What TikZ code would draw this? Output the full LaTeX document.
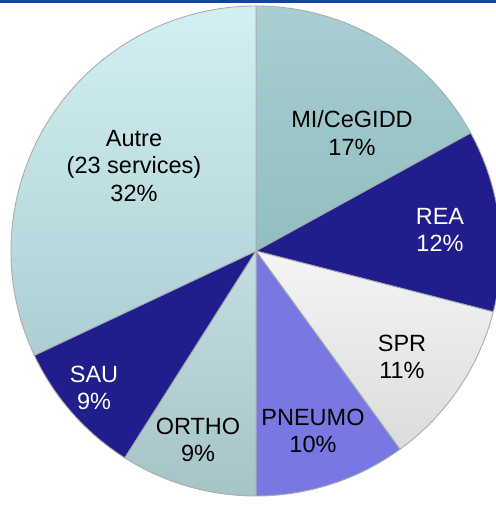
\documentclass[tikz,border=0pt]{standalone}
\usepackage{fontspec}
\setmainfont{Liberation Sans}
\usepackage{tikz}
\usetikzlibrary{calc}

\definecolor{barblue}{RGB}{18,68,168}
\definecolor{navy}{RGB}{32,30,140}
\definecolor{violet}{RGB}{120,120,226}

\begin{document}
\begin{tikzpicture}[x=1pt,y=1pt,
    slice/.style={draw=gray!65,line width=0.9pt},
    lbl/.style={align=center,font=\fontsize{23.5}{27.5}\selectfont,inner sep=0pt},
    wlbl/.style={lbl,text=white}]

  \useasboundingbox (0,0) rectangle (496,507);
  \clip (0,0) rectangle (496,507);

  % Centre of the pie
  \coordinate (c) at (256,256);

  % Draw slices
  % MI/CeGIDD
  \draw[slice,top color={rgb,255:red,168;green,206;blue,209},bottom color={rgb,255:red,146;green,190;blue,194},shift={(59.4:3.5)}]
    (c) -- +(90:245) arc[start angle=90,end angle=28.8,radius=245] -- cycle;
  % REA
  \draw[slice,fill=navy,shift={(7.2:3.5)}]
    (c) -- +(28.8:245) arc[start angle=28.8,end angle=-14.4,radius=245] -- cycle;
  % SPR
  \draw[slice,top color=gray!8,bottom color=gray!28,shift={(-34.2:3.5)}]
    (c) -- +(-14.4:245) arc[start angle=-14.4,end angle=-54,radius=245] -- cycle;
  % PNEUMO
  \draw[slice,fill=violet,shift={(-72:3.5)}]
    (c) -- +(-54:245) arc[start angle=-54,end angle=-90,radius=245] -- cycle;
  % ORTHO
  \draw[slice,top color={rgb,255:red,196;green,222;blue,226},bottom color={rgb,255:red,165;green,196;blue,200},shift={(-106.2:3.5)}]
    (c) -- +(-90:245) arc[start angle=-90,end angle=-122.4,radius=245] -- cycle;
  % SAU
  \draw[slice,fill=navy,shift={(-138.6:3.5)}]
    (c) -- +(-122.4:245) arc[start angle=-122.4,end angle=-154.8,radius=245] -- cycle;
  % Autre
  \draw[slice,top color={rgb,255:red,210;green,240;blue,244},bottom color={rgb,255:red,172;green,206;blue,210},shift={(147.6:3.5)}]
    (c) -- +(205.2:245) arc[start angle=205.2,end angle=90,radius=245] -- cycle;

  % Labels
  \node[lbl]  (autre)  at (134,341) {Autre\\(23 services)\\32\%};
  \node[lbl]  (mi)     at (352,374) {MI/CeGIDD\\17\%};
  \node[wlbl] (rea)    at (440,277) {REA\\12\%};
  \node[lbl]  (spr)    at (402,150) {SPR\\11\%};
  \node[lbl]  (pneumo) at (313,76)  {PNEUMO\\10\%};
  \node[lbl]  (ortho)  at (198,67)  {ORTHO\\9\%};
  \node[wlbl] (sau)    at (94,119)  {SAU\\9\%};

  % Top bar
  \fill[barblue] (0,504) rectangle (496,507);

\end{tikzpicture}
\end{document}
